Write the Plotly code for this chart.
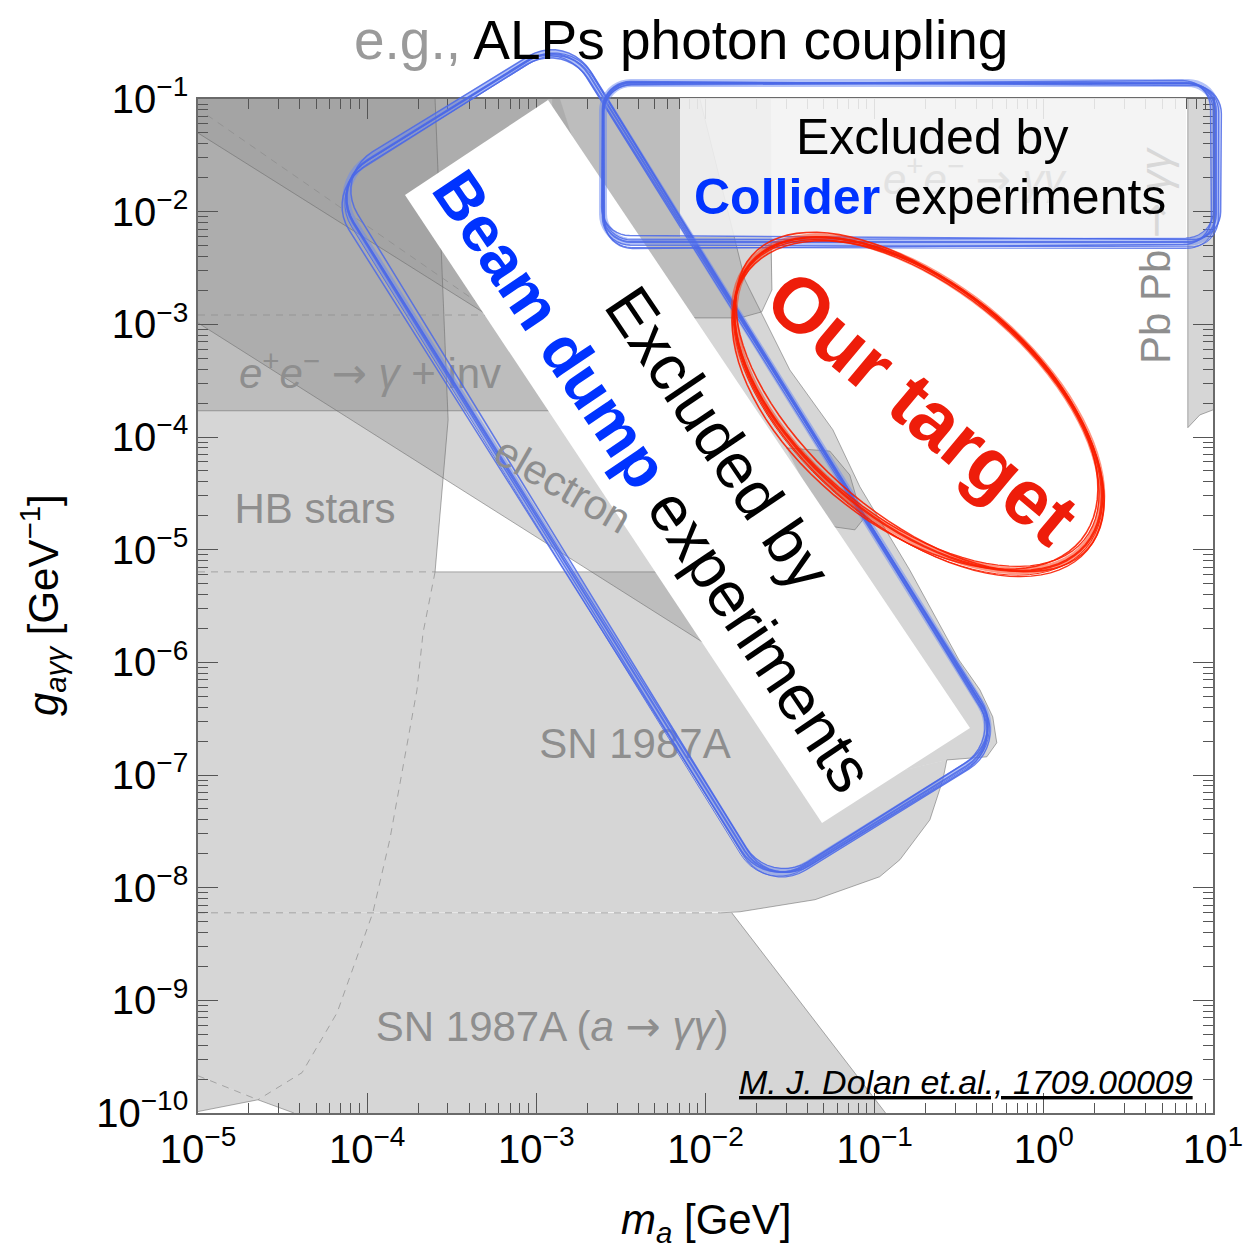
import math
import plotly.graph_objects as go

# ---------------- values ----------------
# x: ALP mass m_a [GeV], y: coupling g_agg [GeV^-1]
HB_M = [1e-5, 2.52e-4, 3.01e-4, 2.52e-4, 1e-5, None, 1e-5, 2.26e-5, 1e-5]
HB_G = [0.1, 0.1, 1.42e-4, 6.35e-6, 6.35e-6, None, 2.14e-10, 1.31e-10, 1.03e-10]

SN_M = [1e-5, 9.27e-3, 0.151, 0.267, 0.253, 0.212, 0.141, 0.107, 4.44e-2, 1.60e-2, 1e-5]
SN_G = [6.35e-6, 6.35e-6, 1.11e-7, 1.36e-7, 9.06e-8, 4.0e-8, 1.77e-8, 1.25e-8, 7.82e-9, 6.11e-9, 5.98e-9]

SNA_M = [1e-5, 1.43e-2, 0.116, 3.69e-5, 2.26e-5, 1e-5]
SNA_G = [5.98e-9, 5.98e-9, 1e-10, 1e-10, 1.31e-10, 2.14e-10]

LEP_M = [1e-5, 2.44e-2, 2.47e-2, 2.15e-2, 1.60e-2, 8.09e-3, 1.38e-3, 1e-5]
LEP_G = [0.1, 0.1, 2.02e-3, 1.29e-3, 1.14e-3, 1.14e-3, 1.71e-4, 1.71e-4]

EL_M = [1e-5, 1.38e-3, 1.60e-2, 1e-5]
EL_G = [0.1, 0.1, 9.31e-7, 1.03e-3]

R2_M = [1e-5, 1.17e-3, 6.10e-4, 1e-5]
R2_G = [0.1, 0.1, 1.03e-3, 4.99e-2]

BD_M = [1.24e-3, 9.27e-3, 1.71e-2, 3.15e-2, 5.66e-2, 8.18e-2, 0.161, 0.315, 0.419, 0.499,
        0.527, 0.460, 0.267, 0.151, 2.38e-3, 1.24e-3]
BD_G = [0.1, 0.1, 2.48e-3, 3.94e-4, 1.16e-4, 3.61e-5, 6.62e-6, 1.05e-6, 5.70e-7, 3.28e-7,
        1.93e-7, 1.45e-7, 1.36e-7, 1.11e-7, 1.64e-3, 7.98e-2]

D2_M = [3.0e-2, 5.43e-2, 7.13e-2, 8.51e-2, 7.64e-2, 5.82e-2, 4.44e-2]
D2_G = [8.0e-5, 7.5e-5, 4.6e-5, 1.84e-5, 1.50e-5, 1.59e-5, 2.50e-5]

PB_M = [7.10, 10.0, 10.0, 8.36, 7.10]
PB_G = [0.1, 0.1, 1.74e-4, 1.57e-4, 1.21e-4]

# visible solid boundaries
SOLID_M = [1e-5, 1.38e-3, None,
           2.44e-2, 2.47e-2, 2.15e-2, 1.60e-2, 8.09e-3, None,
           1e-5, 1.60e-2, None,
           1e-5, 6.10e-4, None,
           2.52e-4, 3.01e-4, 2.52e-4, None,
           2.52e-4, 9.27e-3, None,
           1.23e-2, 1.60e-2, 4.44e-2, 0.107, 0.141, 0.212, 0.253, 0.267, None,
           1.43e-2, 0.116, None,
           1e-5, 2.26e-5, 3.69e-5, None,
           9.27e-3, 1.71e-2, 3.15e-2, 5.66e-2, 8.18e-2, 0.161, 0.315, 0.419, 0.499, 0.527, 0.460, 0.267, None,
           3.0e-2, 5.43e-2, 7.13e-2, 8.51e-2, 7.64e-2, 5.82e-2, 4.44e-2, None,
           7.10, 7.10, 8.36, 10.0]
SOLID_G = [1.71e-4, 1.71e-4, None,
           5.61e-3, 2.02e-3, 1.29e-3, 1.14e-3, 1.14e-3, None,
           1.03e-3, 9.31e-7, None,
           4.99e-2, 1.03e-3, None,
           0.1, 1.42e-4, 6.35e-6, None,
           6.35e-6, 6.35e-6, None,
           5.98e-9, 6.11e-9, 7.82e-9, 1.25e-8, 1.77e-8, 4.0e-8, 9.06e-8, 1.36e-7, None,
           5.98e-9, 1e-10, None,
           1.03e-10, 1.31e-10, 1e-10, None,
           0.1, 2.48e-3, 3.94e-4, 1.16e-4, 3.61e-5, 6.62e-6, 1.05e-6, 5.70e-7, 3.28e-7, 1.93e-7, 1.45e-7, 1.36e-7, None,
           8.0e-5, 7.5e-5, 4.6e-5, 1.84e-5, 1.50e-5, 1.59e-5, 2.50e-5, None,
           0.1, 1.21e-4, 1.57e-4, 1.74e-4]

# hidden (dashed) boundaries
DASH_M = [2.52e-4, 2.14e-4, 1.97e-4, 1.63e-4, 1.36e-4, 1.08e-4, 6.64e-5, 4.12e-5, 2.26e-5, None,
          1e-5, 2.26e-5, None,
          1e-5, 2.52e-4, None,
          1e-5, 1.23e-2, None,
          1e-5, 6.10e-4, None,
          1.13e-5, 6.10e-4]
DASH_G = [6.35e-6, 1.83e-6, 5.70e-7, 1.18e-7, 2.66e-8, 5.98e-9, 7.76e-10, 2.28e-10, 1.31e-10, None,
          2.14e-10, 1.31e-10, None,
          6.35e-6, 6.35e-6, None,
          5.98e-9, 5.98e-9, None,
          1.21e-3, 1.21e-3, None,
          7.21e-2, 1.14e-3]

ARROW = "<span style='font-family:DejaVu Sans'>→</span>"
# region labels
LABEL_TEXT = [f"<i>e</i><sup>+</sup><i>e</i><sup>−</sup> {ARROW} <i>γ</i> + inv", "HB stars", "SN 1987A",
              f"SN 1987A (<i>a</i> {ARROW} <i>γγ</i>)"]
LABEL_M = [1.04e-4, 4.91e-5, 3.83e-3, 1.24e-3]
LABEL_G = [3.34e-4, 2.12e-5, 1.74e-7, 5.37e-10]

X_TICKS = [1e-5, 1e-4, 1e-3, 1e-2, 1e-1, 1e0, 1e1]
X_TICKTEXT = ["10<sup>−5</sup>", "10<sup>−4</sup>", "10<sup>−3</sup>", "10<sup>−2</sup>",
              "10<sup>−1</sup>", "10<sup>0</sup>", "10<sup>1</sup>"]
Y_TICKS = [1e-10, 1e-9, 1e-8, 1e-7, 1e-6, 1e-5, 1e-4, 1e-3, 1e-2, 1e-1]
Y_TICKTEXT = ["10<sup>−10</sup>", "10<sup>−9</sup>", "10<sup>−8</sup>", "10<sup>−7</sup>",
              "10<sup>−6</sup>", "10<sup>−5</sup>", "10<sup>−4</sup>", "10<sup>−3</sup>",
              "10<sup>−2</sup>", "10<sup>−1</sup>"]

# ---------------- figure ----------------
FONT = "Liberation Sans, Arial, Helvetica, sans-serif"
FILL = "rgba(150,150,150,0.39)"
W, H = 1244, 1248
L, R, T, B = 198, 31, 99, 135
PW, PH = W - L - R, H - T - B


def P(x, y):
    return f"{(x - L) / PW:.5f},{(H - B - y) / PH:.5f}"


def px(x):
    return (x - L) / PW


def py(y):
    return (H - B - y) / PH


def rrect_path(cx, cy, ln, wd, r, ang, n=10):
    a = math.radians(ang)
    ca, sa = math.cos(a), math.sin(a)
    hu, hv = ln / 2 - r, wd / 2 - r
    pts = []
    for ux, vy, t0 in [(hu, hv, 0), (-hu, hv, 90), (-hu, -hv, 180), (hu, -hv, 270)]:
        for k in range(n + 1):
            t = math.radians(t0 + 90 * k / n)
            pu = ux + r * math.cos(t)
            pv = vy + r * math.sin(t)
            pts.append(P(cx + pu * ca - pv * sa, cy + pu * sa + pv * ca))
    return "M " + " L ".join(pts) + " Z"


def ellipse_path(cx, cy, a, b, ang, n=90):
    t0 = math.radians(ang)
    ca, sa = math.cos(t0), math.sin(t0)
    pts = []
    for k in range(n + 1):
        t = 2 * math.pi * k / n
        u, v = a * math.cos(t), b * math.sin(t)
        pts.append(P(cx + u * ca - v * sa, cy + u * sa + v * ca))
    return "M " + " L ".join(pts) + " Z"


fig = go.Figure()


def region(m, g):
    fig.add_trace(go.Scatter(x=m, y=g, mode="lines", fill="toself", fillcolor=FILL,
                             line=dict(width=0, color="rgba(0,0,0,0)"),
                             hoverinfo="skip", showlegend=False))


for m, g in [(HB_M, HB_G), (SN_M, SN_G), (SNA_M, SNA_G), (LEP_M, LEP_G), (EL_M, EL_G),
             (R2_M, R2_G), (BD_M, BD_G), (D2_M, D2_G), (PB_M, PB_G)]:
    region(m, g)

fig.add_trace(go.Scatter(x=SOLID_M, y=SOLID_G, mode="lines",
                         line=dict(width=1, color="rgba(105,105,105,0.55)"),
                         hoverinfo="skip", showlegend=False))
fig.add_trace(go.Scatter(x=DASH_M, y=DASH_G, mode="lines",
                         line=dict(width=1, color="rgba(140,140,140,0.7)", dash="7px,6px"),
                         hoverinfo="skip", showlegend=False))
fig.add_trace(go.Scatter(x=LABEL_M, y=LABEL_G, mode="text", text=LABEL_TEXT,
                         textposition="middle center",
                         textfont=dict(family=FONT, size=42, color="#8e8e8e"),
                         hoverinfo="skip", showlegend=False))

shapes = []
# white box of the beam-dump note
shapes.append(dict(type="path", xref="paper", yref="paper", layer="above",
                   path="M " + " L ".join([P(548, 100), P(970, 728), P(822, 823), P(405, 195)]) + " Z",
                   fillcolor="white", line=dict(width=0)))
# light box of the collider note
shapes.append(dict(type="rect", xref="paper", yref="paper", layer="above",
                   x0=px(680), x1=px(1186), y0=py(237), y1=py(98),
                   fillcolor="rgba(243,243,243,0.88)", line=dict(width=0)))

# hand-drawn blue outlines
var = [(0, 0, 0, 0, 0.0, 2.0), (2, -2, 6, -5, 0.4, 1.5), (-2, 2, -6, 5, -0.4, 1.5),
       (1, 2, 3, 4, 0.2, 1.2), (-1, -1, -3, -4, -0.2, 1.2), (0, 3, -2, 6, 0.1, 1.0)]
for base in [(667, 463, 831, 278, 45, 58.1), (909.5, 162.5, 613, 159, 28, 0.0)]:
    cx, cy, ln, wd, r, ang = base
    shapes.append(dict(type="path", xref="paper", yref="paper", layer="above",
                       path=rrect_path(cx, cy, ln, wd, r, ang),
                       line=dict(color="rgba(105,135,242,0.5)", width=8)))
    for dx, dy, dl, dw, da, lw in var:
        shapes.append(dict(type="path", xref="paper", yref="paper", layer="above",
                           path=rrect_path(cx + dx, cy + dy, ln + dl, wd + dw, r, ang + da),
                           line=dict(color="rgba(75,105,232,0.85)", width=lw)))

# hand-drawn red ellipse
shapes.append(dict(type="path", xref="paper", yref="paper", layer="above",
                   path=ellipse_path(918, 404, 219, 117, 40),
                   line=dict(color="rgba(255,45,5,0.5)", width=7)))
for dx, dy, da_, db_, dang, lw in [(0, 0, 0, 0, 0, 2.4), (2, -2, 4, -3, 1.0, 1.6), (-3, 1, -5, 4, -1.0, 1.6),
                                   (1, 3, 2, 2, 0.5, 1.3), (-1, -1, -3, -2, -0.6, 1.3), (0, 2, 1, 3, 0.3, 1.0)]:
    shapes.append(dict(type="path", xref="paper", yref="paper", layer="above",
                       path=ellipse_path(918 + dx, 404 + dy, 219 + da_, 117 + db_, 40 + dang),
                       line=dict(color="rgba(250,30,0,0.9)", width=lw)))

BLUE = "#0033ff"
ann = []


def A(x, y, text, size, color="black", angle=0, xanchor="center", yanchor="middle"):
    ann.append(dict(x=px(x), y=py(y), xref="paper", yref="paper", text=text, showarrow=False,
                    textangle=angle, xanchor=xanchor, yanchor=yanchor,
                    font=dict(family=FONT, size=size, color=color)))


A(975, 176, f"<i>e</i><sup>+</sup><i>e</i><sup>−</sup> {ARROW} <i>γγ</i>", 42, "#e2e2e2")
A(1155, 193, f"{ARROW} <i>γγ</i>", 42, "#d8d8d8", angle=-90)
A(1155, 307, "Pb Pb", 42, "#8e8e8e", angle=-90)
A(562, 485, "electron", 42, "#8e8e8e", angle=30)
A(681, 40, "<span style='color:#9a9a9a'>e.g.,</span> ALPs photon coupling", 55)
A(932, 137, "Excluded by", 50)
A(930, 197, f"<span style='color:{BLUE}'><b>Collider</b></span> experiments", 50)
A(718, 438, "Excluded by", 64, angle=56)
A(653, 481, f"<span style='color:{BLUE}'><b>Beam dump</b></span> experiments", 64, angle=56)
A(922, 407, "<b>Our target</b>", 78, "#ee1d0a", angle=40)
A(1195, 1082, "<i><u>M. J. Dolan et.al., 1709.00009</u></i>", 34, xanchor="right")
A(706, 1222, "<i>m<sub>a</sub></i> [GeV]", 42)
A(42, 605, "<i>g<sub>aγγ</sub></i> [GeV<sup>−1</sup>]", 42, angle=-90)

x_minor = [k * 10.0 ** d for d in range(-5, 1) for k in range(2, 10)]
y_minor = [k * 10.0 ** d for d in range(-10, -1) for k in range(2, 10)]

axis_common = dict(type="log", ticks="inside", ticklen=20, tickwidth=1, tickcolor="#555",
                   showline=True, linecolor="#6a6a6a", linewidth=1.5, mirror="allticks",
                   showgrid=False, zeroline=False, automargin=False,
                   tickfont=dict(family=FONT, size=40, color="black"))

fig.update_layout(
    width=W, height=H, margin=dict(l=L, r=R, t=T, b=B, autoexpand=False),
    paper_bgcolor="white", plot_bgcolor="white",
    xaxis=dict(range=[-5, 1], tickmode="array", tickvals=X_TICKS, ticktext=X_TICKTEXT,
               minor=dict(tickmode="array", tickvals=x_minor, ticks="inside", ticklen=10,
                          tickwidth=1, tickcolor="#555", showgrid=False),
               **axis_common),
    yaxis=dict(range=[-10, -1], tickmode="array", tickvals=Y_TICKS, ticktext=Y_TICKTEXT,
               minor=dict(tickmode="array", tickvals=y_minor, ticks="inside", ticklen=10,
                          tickwidth=1, tickcolor="#555", showgrid=False),
               **axis_common),
    shapes=shapes, annotations=ann, showlegend=False,
)

fig.write_html("out.html", config={"displayModeBar": False},
               post_script="document.body.style.margin='0';document.body.style.overflow='hidden';")
